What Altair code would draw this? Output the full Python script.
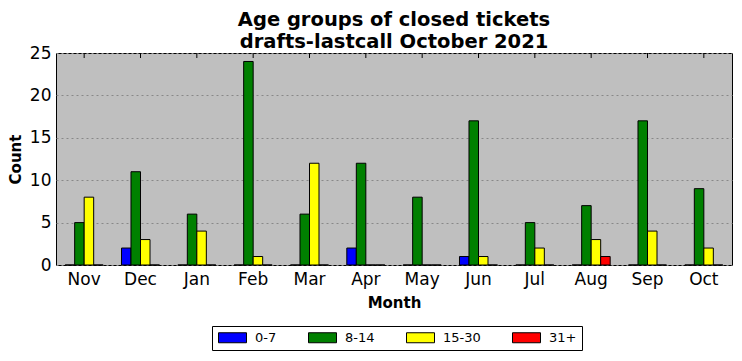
import altair as alt
import pandas as pd

months = ["Nov", "Dec", "Jan", "Feb", "Mar", "Apr", "May", "Jun", "Jul", "Aug", "Sep", "Oct"]
groups = ["0-7", "8-14", "15-30", "31+"]
colors = ["#0000ff", "#008000", "#ffff00", "#ff0000"]
g0_7 = [0, 2, 0, 0, 0, 2, 0, 1, 0, 0, 0, 0]
g8_14 = [5, 11, 6, 24, 6, 12, 8, 17, 5, 7, 17, 9]
g15_30 = [8, 3, 4, 1, 12, 0, 0, 1, 2, 3, 4, 2]
g31 = [0, 0, 0, 0, 0, 0, 0, 0, 0, 1, 0, 0]

rows = []
for g, vals in zip(groups, [g0_7, g8_14, g15_30, g31]):
    for m, v in zip(months, vals):
        rows.append({"Month": m, "Group": g, "Count": v})
df = pd.DataFrame(rows)

FONT = "DejaVu Sans"

xscale = alt.Scale(domain=months, paddingInner=0.325, paddingOuter=0.1625)

bars = alt.Chart(df).mark_bar(stroke="black", strokeWidth=1).encode(
    x=alt.X("Month:N", sort=months, scale=xscale,
            axis=alt.Axis(title="Month", labelAngle=0, labelFontSize=17, labelColor="black",
                          titleFontSize=15, titleFontWeight="bold", titleColor="black",
                          titlePadding=8, labelPadding=6, ticks=False, domain=False, grid=False)),
    xOffset=alt.XOffset("Group:N", sort=groups, scale=alt.Scale(domain=groups, paddingInner=0, paddingOuter=0)),
    y=alt.Y("Count:Q", scale=alt.Scale(domain=[0, 25]),
            axis=alt.Axis(title="Count", values=[0, 5, 10, 15, 20, 25], labelFontSize=17, labelColor="black",
                          titleFontSize=15, titleFontWeight="bold", titleColor="black",
                          titlePadding=6, labelPadding=5, ticks=False, domain=False,
                          grid=True, gridColor="#888888", gridDash=[2, 3], gridWidth=1)),
    color=alt.Color("Group:N", sort=groups, scale=alt.Scale(domain=groups, range=colors),
                    legend=alt.Legend(title=None, orient="none", direction="horizontal",
                                      legendX=156, legendY=273,
                                      symbolType="M-1,-1H4.6V1H-1Z", symbolSize=100,
                                      symbolStrokeColor="black", symbolStrokeWidth=1,
                                      symbolOpacity=1, labelOffset=25, labelFontSize=13,
                                      labelColor="black", columnPadding=29,
                                      strokeColor="black", padding=5, fillColor="white")),
)

tickdf = pd.DataFrame({"Month": months})
ticks = alt.Chart(tickdf).mark_rule(color="black", strokeWidth=1).encode(
    x=alt.X("Month:N", sort=months, scale=xscale, bandPosition=0.5),
    y=alt.value(0),
    y2=alt.value(5),
)

chart = alt.layer(bars, ticks).properties(
    width=676,
    height=212,
    autosize=alt.AutoSizeParams(type="none"),
    padding={"left": 48, "top": 45, "right": 2, "bottom": 86},
    title=alt.TitleParams(["Age groups of closed tickets", "drafts-lastcall October 2021"],
                          fontSize=19.5, fontWeight="bold", font=FONT, color="black",
                          anchor="middle", lineHeight=22, offset=-8),
).configure(font=FONT).configure_view(
    fill="#bfbfbf", stroke="black", strokeWidth=1
)

chart.save("out.html", embed_options={"renderer": "svg", "actions": False})
